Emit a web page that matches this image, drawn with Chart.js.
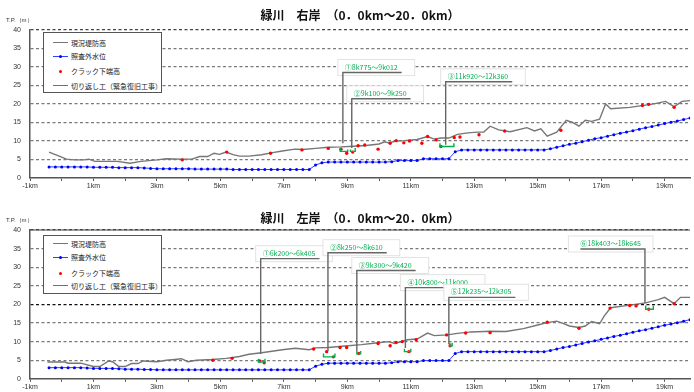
<!DOCTYPE html>
<html>
<head>
<meta charset="utf-8">
<script src="https://cdn.jsdelivr.net/npm/chart.js@4.4.1/dist/chart.umd.min.js"></script>
<style>
body{margin:0;background:#fff}
#page{position:relative;width:694px;height:392px;overflow:hidden}
.panel{position:absolute;left:0;width:694px;height:196px}
.legend{position:absolute;left:43px;width:117px;border:1px solid #555;background:#fff;font:7px "Noto Sans CJK JP",sans-serif;color:#222}
.legend .row{position:absolute;left:0;width:117px;height:10px;line-height:10px;white-space:nowrap}
.legend .sw{position:absolute;left:9px;top:0;width:15px;height:10px}
.legend .ln{position:absolute;left:0;right:0;top:5px;height:0;border-top-style:solid}
.legend .dot{position:absolute;left:6px;top:3.5px;width:3px;height:3px;border-radius:50%}
.legend .tx{position:absolute;left:27px;top:0}
</style>
</head>
<body>
<div id="page">
  <div class="panel" style="top:0"><canvas id="right" width="694" height="196"></canvas><div class="legend" id="legRight" style="top:32px;height:59px"></div></div>
  <div class="panel" style="top:196px"><canvas id="left" width="694" height="196"></canvas><div class="legend" id="legLeft" style="top:39px;height:57px"></div></div>
</div>
<script>
// series names
const seriesNames = ['現況堤防高', '照査外水位', 'クラック下端高', '切り返し工（緊急復旧工事）'];

// water level points (every 0.2 km), shared by both banks
const waterKm = [-0.4,-0.2,0,0.2,0.4,0.6,0.8,1,1.2,1.4,
  1.6,1.8,2,2.2,2.4,2.6,2.8,3,3.2,3.4,
  3.6,3.8,4,4.2,4.4,4.6,4.8,5,5.2,5.4,
  5.6,5.8,6,6.2,6.4,6.6,6.8,7,7.2,7.4,
  7.6,7.8,8,8.2,8.4,8.6,8.8,9,9.2,9.4,
  9.6,9.8,10,10.2,10.4,10.6,10.8,11,11.2,11.4,
  11.6,11.8,12,12.2,12.4,12.6,12.8,13,13.2,13.4,
  13.6,13.8,14,14.2,14.4,14.6,14.8,15,15.2,15.4,
  15.6,15.8,16,16.2,16.4,16.6,16.8,17,17.2,17.4,
  17.6,17.8,18,18.2,18.4,18.6,18.8,19,19.2,19.4,
  19.6,19.8];

// ---- right bank (右岸)
const rightWater = [3.0,3.0,3.0,3.0,3.0,3.0,3.0,2.9,2.9,2.9,
  2.9,2.8,2.8,2.8,2.8,2.7,2.6,2.5,2.5,2.5,
  2.5,2.5,2.5,2.4,2.4,2.4,2.4,2.4,2.4,2.3,
  2.3,2.3,2.3,2.3,2.3,2.3,2.3,2.3,2.3,2.3,
  2.3,2.3,3.5,4.1,4.3,4.3,4.3,4.3,4.3,4.3,
  4.3,4.3,4.3,4.3,4.4,4.7,4.7,4.7,4.7,5.2,
  5.2,5.2,5.2,5.2,7.1,7.6,7.6,7.6,7.6,7.6,
  7.6,7.6,7.6,7.6,7.6,7.6,7.6,7.6,7.6,7.9,
  8.3,8.7,9.1,9.4,9.8,10.2,10.6,10.9,11.3,11.7,
  12.1,12.4,12.8,13.2,13.6,13.9,14.3,14.7,15.1,15.4,
  15.8,16.2];

const rightCrestKm = [-0.4,-0.1,0.15,0.4,0.7,0.85,1.05,1.4,1.75,2.15,2.5,3.0,3.3,3.75,4.1,4.35,4.6,4.8,4.97,5.18,
  5.4,5.6,5.9,6.3,6.6,6.95,7.35,7.6,8.0,8.4,8.8,9.2,9.6,10.0,10.18,10.3,10.55,10.8,11.2,11.53,
  11.74,11.95,12.2,12.47,12.8,13.1,13.3,13.5,13.77,14.13,14.66,14.9,15.1,15.3,15.6,15.9,16.1,16.3,16.5,16.7,
  16.95,17.14,17.3,17.9,18.4,18.7,19.03,19.3,19.55,19.8];
const rightCrest = [7.0,6.0,5.1,4.9,4.9,5.1,4.5,4.5,4.5,4.0,4.5,4.9,5.2,5.1,5.1,5.8,5.8,6.7,6.4,7.0,
  6.3,5.9,5.9,6.3,6.8,7.3,7.8,7.7,8.0,8.3,8.4,8.6,8.8,9.2,9.8,9.5,10.0,10.1,10.4,11.2,
  10.5,10.8,10.8,11.8,12.2,12.4,12.4,14.0,13.0,12.5,13.6,12.7,13.3,11.3,12.4,15.6,15.0,14.0,15.6,15.3,
  15.9,20.0,18.7,19.1,19.7,20.1,20.7,19.3,20.7,20.9];

const rightCrackKm = [3.8,5.2,6.58,7.57,8.4,8.8,8.98,9.17,9.34,9.55,9.97,10.35,10.54,10.78,10.96,11.35,11.53,11.8,11.95,12.37,
  12.55,13.15,13.96,15.73,18.3,18.5,19.3];
const rightCrack = [4.9,7.0,6.7,7.6,8.0,7.8,6.7,7.0,8.7,8.9,7.8,9.4,10.1,9.5,10.0,9.4,11.2,10.3,8.5,10.95,
  11.1,11.7,12.7,12.9,19.6,19.9,19.1];

const rightWorkKm = [8.775,8.775,9.012,9.012,9.05,9.1,9.1,9.25,9.25,11.5,11.92,11.92,12.36,12.36];
const rightWork = [8.1,7.2,7.2,7.7,null,7.7,7.2,7.2,8.1,null,9.4,8.5,8.5,9.4];

const rightNotes = ['①8k775～9k012', '②9k100～9k250', '③11k920～12k360'];
const rightNoteKm = [8.86, 9.14, 12.1];
const rightNoteBase = [9.4, 8.1, 9.0];

// ---- left bank (左岸)
const leftWater = [3.0,3.0,3.0,3.0,3.0,3.0,2.9,2.8,2.8,2.8,
  2.8,2.7,2.6,2.6,2.6,2.5,2.5,2.4,2.4,2.4,
  2.4,2.4,2.4,2.4,2.4,2.4,2.4,2.4,2.4,2.4,
  2.4,2.4,2.4,2.4,2.4,2.4,2.4,2.4,2.4,2.4,
  2.4,2.4,3.4,3.9,4.2,4.2,4.2,4.2,4.2,4.2,
  4.2,4.2,4.2,4.2,4.3,4.6,4.6,4.6,4.6,4.9,
  4.9,4.9,4.9,4.9,6.8,7.3,7.3,7.3,7.3,7.3,
  7.3,7.3,7.3,7.3,7.3,7.3,7.3,7.3,7.3,7.6,
  8.0,8.4,8.7,9.1,9.5,9.9,10.2,10.6,11.0,11.4,
  11.7,12.1,12.5,12.9,13.2,13.6,14.0,14.4,14.7,15.1,
  15.5,15.9];

const leftCrestKm = [-0.45,0.1,0.2,0.6,1.0,1.2,1.48,1.6,1.8,2.0,2.2,2.4,2.57,3.0,3.3,3.56,3.77,3.98,4.24,4.76,
  5.18,5.6,5.9,6.3,6.95,7.36,7.8,8.0,8.4,8.93,9.45,9.97,10.3,10.5,10.9,11.2,11.53,11.74,12.16,12.47,
  12.9,13.5,14.0,14.55,14.97,15.3,15.6,15.8,16.0,16.3,16.5,16.7,16.95,17.1,17.3,17.9,18.4,18.8,19.0,19.3,
  19.5,19.8];
const leftCrest = [4.5,4.5,4.2,4.2,3.3,3.3,4.8,4.6,3.3,3.3,4.1,4.1,4.8,4.6,5.0,5.2,5.4,4.6,5.0,5.2,
  5.5,6.0,6.6,7.0,7.8,8.2,7.8,8.3,8.4,8.8,9.2,9.7,10.0,9.5,10.5,10.7,12.3,11.6,11.8,12.2,
  12.6,12.8,12.7,13.5,14.4,15.1,15.5,14.9,14.2,13.8,14.2,15.4,14.8,16.9,19.1,19.8,20.4,21.3,21.9,20.2,
  21.9,21.9];

const leftCrackKm = [4.76,5.37,6.24,6.38,7.94,8.35,8.56,8.77,8.98,9.36,9.97,10.35,10.54,10.73,10.94,11.17,12.13,12.24,12.73,13.5,
  15.3,16.3,17.28,17.9,18.1,18.5,19.3];
const leftCrack = [5.0,5.5,4.8,4.3,8.0,7.3,5.9,8.4,8.4,6.8,9.5,8.9,9.8,10.0,7.3,10.5,11.8,8.9,12.3,12.4,
  15.2,13.6,19.0,19.7,19.6,18.7,20.2];

const leftWorkKm = [6.2,6.2,6.405,6.405,7.3,8.25,8.25,8.61,8.61,9.0,9.3,9.3,9.42,9.42,10.5,10.8,10.8,11.0,11.0,11.6,
  12.235,12.235,12.305,12.305,15.0,18.403,18.403,18.645,18.645];
const leftWork = [5.4,4.5,4.5,5.4,null,6.8,5.9,5.9,6.8,null,7.5,6.7,6.7,7.5,null,8.1,7.3,7.3,8.1,null,
  9.7,8.9,8.9,9.7,null,19.7,18.7,18.7,19.7];

const leftNotes = ['①6k200～6k405', '②8k250～8k610', '③9k300～9k420', '④10k800～11k000', '⑤12k235～12k305', '⑥18k403～18k645'];
const leftNoteKm = [6.27, 8.39, 9.3, 10.83, 12.2, 18.38];
const leftNoteBase = [6.7, 7.5, 7.5, 8.3, 9.3, 20.3];

const yTicks = [0, 5, 10, 15, 20, 25, 30, 35, 40];

function pairs(xs, ys) {
  return xs.map(function (x, i) { return {x: x, y: ys[i]}; });
}

// callout boxes + axis caption
function notesPlugin(o) {
  return {
    id: 'notes',
    afterDatasetsDraw(chart) {
      const ctx = chart.ctx, area = chart.chartArea;
      const xs = chart.scales.x, ys = chart.scales.y;
      ctx.save();
      ctx.font = '6px "Liberation Sans", sans-serif';
      ctx.fillStyle = '#333';
      ctx.textBaseline = 'middle';
      ctx.fillText('T.P.（m）', 6, area.top - 10);
      if (o.solidTop) {
        ctx.strokeStyle = '#444';
        ctx.lineWidth = 1.2;
        ctx.beginPath();
        ctx.moveTo(area.left, area.top);
        ctx.lineTo(area.right, area.top);
        ctx.stroke();
      }
      ctx.font = '7px "Noto Sans CJK JP", sans-serif';
      ctx.textBaseline = 'alphabetic';
      o.text.forEach(function (t, i) {
        const px = xs.getPixelForValue(o.km[i]);
        const pb = ys.getPixelForValue(o.base[i]);
        const pl = ys.getPixelForValue(o.level[i]);
        const w = ctx.measureText(t).width;
        // callout opens to the right, or to the left near the right edge
        const toLeft = o.side && o.side[i] < 0;
        const bx = toLeft ? px - w - 16 : px - 5;
        const ux = toLeft ? px - w - 4 : px + w + 6;
        const tx = toLeft ? px - w - 4 : px + 2;
        ctx.fillStyle = '#fff';
        ctx.fillRect(bx, pl - 13, w + 24, 16);
        ctx.strokeStyle = '#e2e2e2';
        ctx.lineWidth = 1;
        ctx.strokeRect(bx, pl - 13, w + 24, 16);
        ctx.strokeStyle = '#666';
        ctx.lineWidth = 1.4;
        ctx.beginPath();
        ctx.moveTo(px, pb);
        ctx.lineTo(px, pl);
        ctx.lineTo(ux, pl);
        ctx.stroke();
        ctx.fillStyle = '#00b050';
        ctx.fillText(t, tx, pl - 3);
      });
      ctx.restore();
    }
  };
}

function makeChart(id, o) {
  const datasets = [
    {label: seriesNames[0], data: pairs(o.crestKm, o.crest), borderColor: '#767676', borderWidth: 1.4, pointRadius: 0, order: 4},
    {label: seriesNames[1], data: pairs(waterKm, o.water), borderColor: '#3040ff', borderWidth: 1, pointRadius: 1.5,
      pointBackgroundColor: '#0000ff', pointBorderWidth: 0, order: 3},
    {label: seriesNames[2], data: pairs(o.crackKm, o.crack), showLine: false, pointRadius: 1.7,
      pointBackgroundColor: '#ff0000', pointBorderWidth: 0, borderColor: '#ff0000', order: 2},
    {label: seriesNames[3], data: pairs(o.workKm, o.work), borderColor: '#00b050', borderWidth: 1.4, pointRadius: 0, spanGaps: false, order: 1}
  ];
  return new Chart(document.getElementById(id), {
    type: 'line',
    data: {datasets: datasets},
    options: {
      responsive: false,
      animation: false,
      events: [],
      layout: {padding: 0},
      plugins: {
        legend: {display: false},
        tooltip: {enabled: false},
        title: {
          display: true,
          text: o.title,
          fullSize: false,
          color: '#111',
          font: {family: '"Noto Sans CJK JP", sans-serif', size: 12, weight: 'bold'},
          padding: o.titlePad
        }
      },
      scales: {
        x: {
          type: 'linear', min: -1, max: 19.8,
          afterFit: function (s) { s.height = o.xHeight; },
          ticks: {
            stepSize: 1, includeBounds: false, autoSkip: false, maxRotation: 0, padding: 1,
            color: '#333', font: {family: '"Liberation Sans", sans-serif', size: 7},
            callback: function (v) { return Math.abs(v % 2) === 1 ? v + 'km' : ''; }
          },
          grid: {drawOnChartArea: false, drawTicks: true, tickLength: 3, tickColor: '#555', tickWidth: 1},
          border: {color: '#555', width: 1.5}
        },
        y: {
          min: 0, max: 40,
          afterFit: function (s) { s.width = 30; },
          afterBuildTicks: function (s) { s.ticks = yTicks.map(function (v) { return {value: v}; }); },
          ticks: {padding: 9, color: '#333', font: {family: '"Liberation Sans", sans-serif', size: 7}},
          grid: {
            drawTicks: false,
            lineWidth: 1.2,
            color: function (c) {
              const v = c.tick.value;
              if (v === 0) return 'rgba(0,0,0,0)';
              if (v === 40) return '#444';
              if (v === 20 && o.darkTwenty) return '#111';
              return '#7a7a7a';
            }
          },
          border: {color: '#555', width: 1.5, dash: [3, 2.5]}
        }
      }
    },
    plugins: [notesPlugin(o.notes)]
  });
}

function buildLegend(elId, chart, rows) {
  const box = document.getElementById(elId);
  chart.data.datasets.forEach(function (ds, i) {
    const row = document.createElement('div');
    row.className = 'row';
    row.style.top = (rows[i] - 5) + 'px';
    const sw = document.createElement('span');
    sw.className = 'sw';
    if (ds.showLine !== false) {
      const ln = document.createElement('span');
      ln.className = 'ln';
      ln.style.borderTopColor = ds.borderColor;
      ln.style.borderTopWidth = (ds.borderWidth + 0.2) + 'px';
      ln.style.top = (5 - ds.borderWidth / 2) + 'px';
      sw.appendChild(ln);
    }
    if (ds.pointRadius > 0) {
      const dot = document.createElement('span');
      dot.className = 'dot';
      dot.style.background = ds.pointBackgroundColor;
      sw.appendChild(dot);
    }
    const tx = document.createElement('span');
    tx.className = 'tx';
    tx.textContent = ds.label;
    row.appendChild(sw);
    row.appendChild(tx);
    box.appendChild(row);
  });
}

const rightChart = makeChart('right', {
  title: '緑川　右岸　（0．0km～20．0km）',
  titlePad: {top: 8, bottom: 7.6},
  xHeight: 18,
  darkTwenty: false,
  crestKm: rightCrestKm, crest: rightCrest,
  water: rightWater,
  crackKm: rightCrackKm, crack: rightCrack,
  workKm: rightWorkKm, work: rightWork,
  notes: {text: rightNotes, km: rightNoteKm, base: rightNoteBase, level: [28.5, 21.4, 26.0], solidTop: false}
});

const leftChart = makeChart('left', {
  title: '緑川　左岸　（0．0km～20．0km）',
  titlePad: {top: 14.8, bottom: 4.8},
  xHeight: 12,
  darkTwenty: true,
  crestKm: leftCrestKm, crest: leftCrest,
  water: leftWater,
  crackKm: leftCrackKm, crack: leftCrack,
  workKm: leftWorkKm, work: leftWork,
  notes: {text: leftNotes, km: leftNoteKm, base: leftNoteBase, level: [32.3, 33.9, 29.1, 24.5, 21.9, 34.9],
    side: [1, 1, 1, 1, 1, -1], solidTop: true}
});

buildLegend('legRight', rightChart, [10, 23, 38, 53]);
buildLegend('legLeft', leftChart, [8, 21, 37, 50]);
</script>
</body>
</html>
